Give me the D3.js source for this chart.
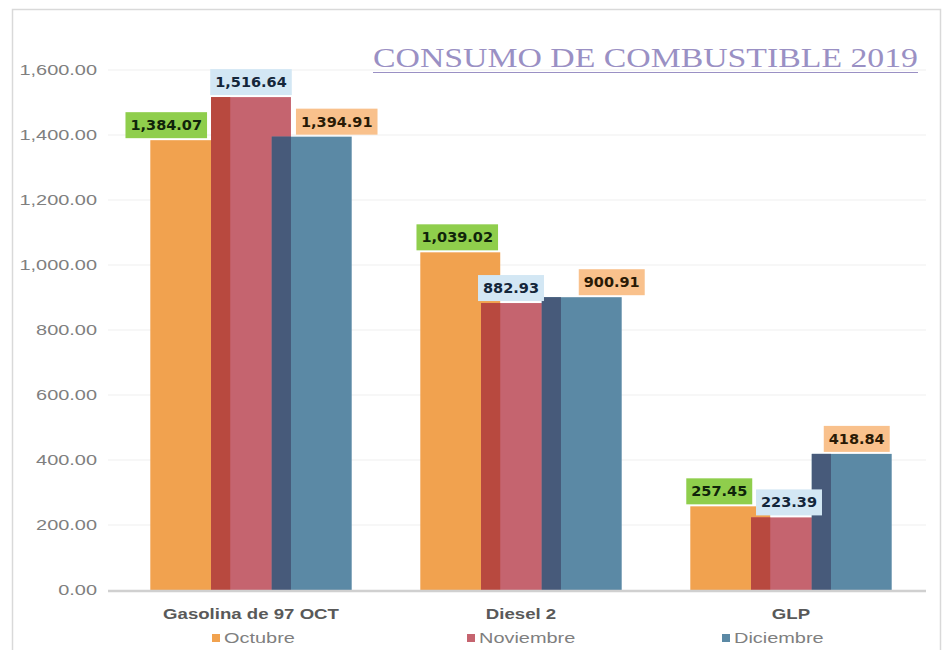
<!DOCTYPE html>
<html>
<head>
<meta charset="utf-8">
<script src="https://cdn.jsdelivr.net/npm/d3@7/dist/d3.min.js"></script>
<style>
  body { margin: 0; background: #fff; }
  svg { display: block; }
</style>
</head>
<body>
<div id="plotholder"></div>
<script>
const categories = ['Gasolina de 97 OCT', 'Diesel 2', 'GLP']
const series = ['Octubre', 'Noviembre', 'Diciembre']
const octubre = [1384.07, 1039.02, 257.45]
const noviembre = [1516.64, 882.93, 223.39]
const diciembre = [1394.91, 900.91, 418.84]
const yticks = [0, 200, 400, 600, 800, 1000, 1200, 1400, 1600]
const titletext = 'CONSUMO DE COMBUSTIBLE 2019'

// styling, not data
const colors = {
  Octubre: { main: '#f1a24f', side: '#eb9a47', bg: '#8fce4c', ink: '#10240a' },
  Noviembre: { main: '#c5646f', side: '#b8493f', bg: '#d3e7f4', ink: '#14263a' },
  Diciembre: { main: '#5b89a5', side: '#475a7a', bg: '#f9c18c', ink: '#2a1a05' },
}
// hand nudges of the data labels, as in the original sheet
const labelnudge = {
  Octubre: [-24, -3, -11],
  Noviembre: [0, -10, -2],
  Diciembre: [25, 30, 5],
}

const W = 943, H = 650
const margin = { left: 116, right: 17, top: 70, bottom: 60 }
const SX = 1.33   // the picture is stretched sideways, so is its plain text

const values = { Octubre: octubre, Noviembre: noviembre, Diciembre: diciembre }

const svg = d3.select('#plotholder').append('svg')
  .attr('width', W)
  .attr('height', H)

// frame
svg.append('rect')
  .attr('x', 12.5).attr('y', 9.5)
  .attr('width', 928).attr('height', 660)
  .attr('fill', 'none')
  .attr('stroke', '#d9d9d9')
  .attr('stroke-width', 1.5)

const xscale = d3.scaleBand()
  .domain(categories)
  .range([margin.left, W - margin.right])

const yscale = d3.scaleLinear()
  .domain([0, 1600])
  .range([H - margin.bottom, margin.top])

const barw = xscale.bandwidth() * 0.296
const sidew = barw * 0.24
const offset = d3.scalePoint()
  .domain(series)
  .range([-barw * 0.76, barw * 0.76])

// grid
svg.append('g')
  .selectAll('line')
  .data(yticks.slice(1))
  .join('line')
  .attr('x1', 108).attr('x2', W - margin.right)
  .attr('y1', d => yscale(d)).attr('y2', d => yscale(d))
  .attr('stroke', '#efefef')
  .attr('stroke-width', 1.2)

// y axis
const yaxis = svg.append('g')
  .attr('transform', 'translate(108,0)')
  .call(d3.axisLeft(yscale).tickValues(yticks).tickFormat(d3.format(',.2f')).tickSize(0))
yaxis.select('.domain').remove()
yaxis.selectAll('text')
  .attr('x', -11 / SX)
  .attr('transform', `scale(${SX},1)`)
  .attr('font-family', '"Liberation Sans", Arial, sans-serif')
  .attr('font-size', 15)
  .attr('fill', '#7f7f7f')

// bars
series.forEach(s => {
  const g = svg.append('g')
  const c = colors[s]
  const rows = categories.map((cat, i) => ({ cat, v: values[s][i], i }))
  g.selectAll('rect.main')
    .data(rows)
    .join('rect')
    .attr('class', 'main')
    .attr('x', d => xscale(d.cat) + xscale.bandwidth() / 2 + offset(s) - barw / 2)
    .attr('y', d => yscale(d.v))
    .attr('width', barw)
    .attr('height', d => yscale(0) - yscale(d.v))
    .attr('fill', c.main)
  if (s !== 'Octubre') {
    g.selectAll('rect.side')
      .data(rows)
      .join('rect')
      .attr('class', 'side')
      .attr('x', d => xscale(d.cat) + xscale.bandwidth() / 2 + offset(s) - barw / 2)
      .attr('y', d => yscale(d.v))
      .attr('width', sidew)
      .attr('height', d => yscale(0) - yscale(d.v))
      .attr('fill', c.side)
  }
})

// baseline
svg.append('line')
  .attr('x1', 108).attr('x2', W - margin.right)
  .attr('y1', yscale(0) + 1).attr('y2', yscale(0) + 1)
  .attr('stroke', '#d0d0d0')
  .attr('stroke-width', 2.5)

// data labels
const fmt = d3.format(',.2f')
series.forEach(s => {
  const c = colors[s]
  categories.forEach((cat, i) => {
    const v = values[s][i]
    const cx = xscale(cat) + xscale.bandwidth() / 2 + offset(s) + labelnudge[s][i]
    const bottom = yscale(v) - 2
    const lab = svg.append('g')
    const t = lab.append('text')
      .attr('x', cx)
      .attr('y', bottom - 8)
      .attr('text-anchor', 'middle')
      .attr('font-family', '"DejaVu Sans", Verdana, sans-serif')
      .attr('font-weight', 'bold')
      .attr('font-size', 14.5)
      .attr('fill', c.ink)
      .text(fmt(v))
    const bb = t.node().getBBox()
    lab.insert('rect', 'text')
      .attr('x', bb.x - 5)
      .attr('y', bottom - 26)
      .attr('width', bb.width + 10)
      .attr('height', 26)
      .attr('fill', c.bg)
  })
})

// category axis
const xaxis = svg.append('g')
  .attr('transform', `translate(0,${yscale(0)})`)
  .call(d3.axisBottom(xscale).tickSize(0))
xaxis.select('.domain').remove()
xaxis.selectAll('text')
  .attr('y', 29)
  .attr('dy', 0)
  .attr('transform', `scale(${SX},1)`)
  .attr('font-family', '"Liberation Sans", Arial, sans-serif')
  .attr('font-weight', 'bold')
  .attr('font-size', 14)
  .attr('fill', '#595959')
xaxis.selectAll('.tick')
  .attr('transform', d => `translate(${xscale(d) + xscale.bandwidth() / 2},0)`)

// legend
const legendx = d3.scalePoint().domain(series).range([212, 722])
const legend = svg.append('g')
series.forEach(s => {
  const item = legend.append('g').attr('transform', `translate(${legendx(s)},634)`)
  item.append('rect')
    .attr('width', 8).attr('height', 8)
    .attr('fill', colors[s].main)
  item.append('text')
    .attr('x', 12 / SX)
    .attr('y', 9)
    .attr('transform', `scale(${SX},1)`)
    .attr('font-family', '"Liberation Sans", Arial, sans-serif')
    .attr('font-size', 15)
    .attr('fill', '#7f7f7f')
    .text(s)
})

// title
svg.append('text')
  .attr('x', 373)
  .attr('y', 67)
  .attr('textLength', 545)
  .attr('lengthAdjust', 'spacingAndGlyphs')
  .attr('font-family', '"Liberation Serif", "Times New Roman", serif')
  .attr('font-size', 28)
  .attr('fill', '#9a90c4')
  .text(titletext)
svg.append('line')
  .attr('x1', 373).attr('x2', 918)
  .attr('y1', 72.5).attr('y2', 72.5)
  .attr('stroke', '#9a90c4')
  .attr('stroke-width', 1.2)
</script>
</body>
</html>
